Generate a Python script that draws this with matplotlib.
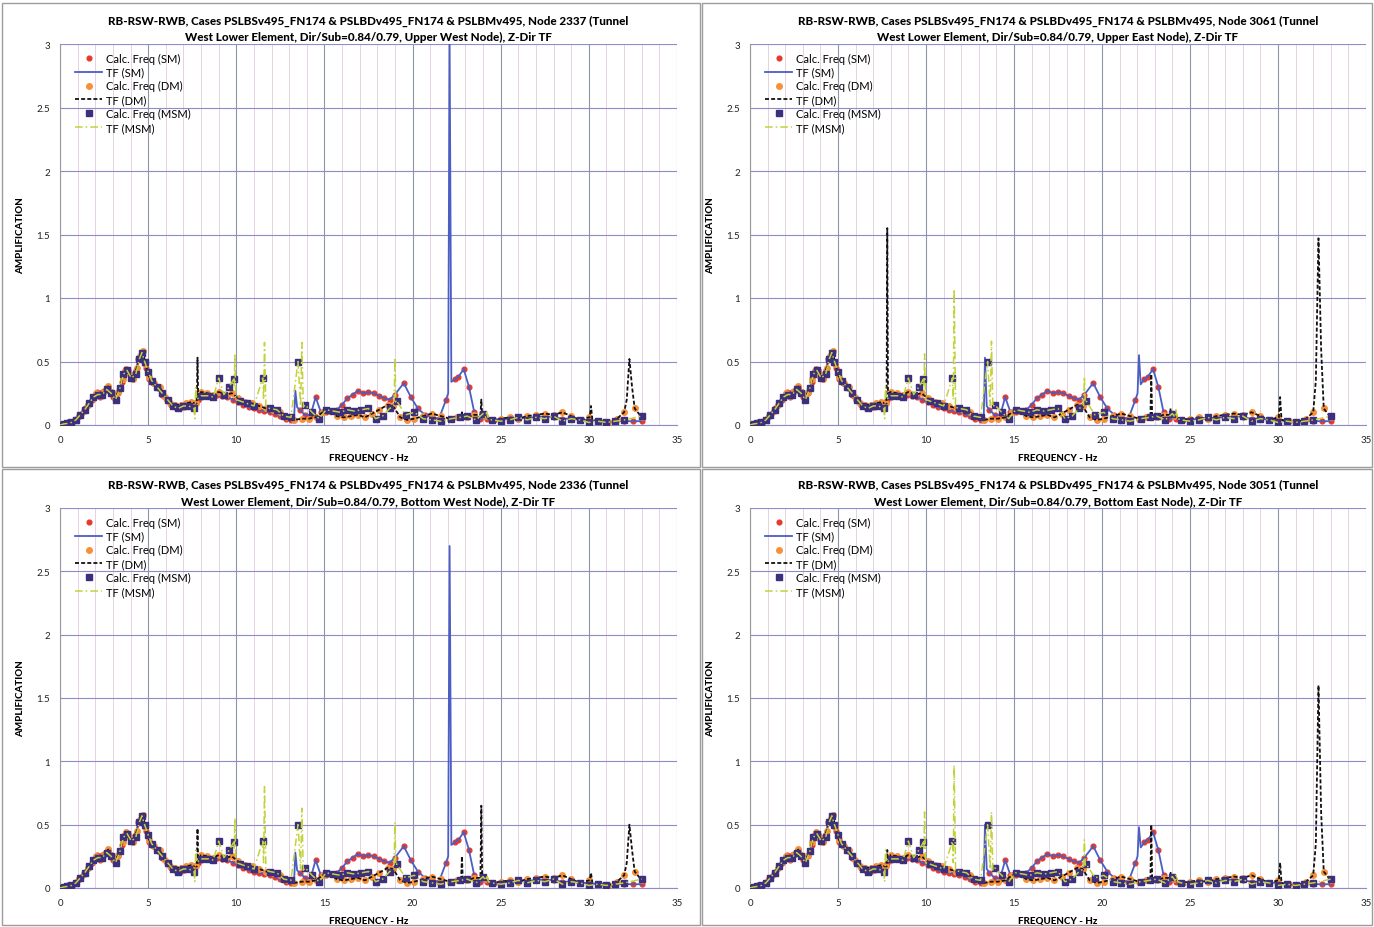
import numpy as np
import matplotlib
matplotlib.use("Agg")
import matplotlib.pyplot as plt
from matplotlib.patches import Rectangle
from matplotlib.ticker import MultipleLocator

FONT = ["Lato", "DejaVu Sans"]
plt.rcParams["font.family"] = FONT

# ── Panel definitions ─────────────────────────────────────────────────────────

NODES = ["2337", "3061", "2336", "3051"]
NODE_POS = ["Upper West Node", "Upper East Node", "Bottom West Node", "Bottom East Node"]

# ── SM case: calculated frequencies (Hz) and amplification ───────────────────

SM_FREQ = [0.0, 0.15, 0.3, 0.45, 0.6, 0.8, 1.0, 1.2, 1.4, 1.6,
           1.8, 2.0, 2.1, 2.25, 2.4, 2.55, 2.7, 2.85, 3.0, 3.15,
           3.3, 3.5, 3.7, 3.85, 4.0, 4.15, 4.3, 4.45, 4.6, 4.75,
           4.9, 5.05, 5.3, 5.55, 5.8, 6.05, 6.3, 6.55, 6.8, 7.05,
           7.3, 7.55, 7.8, 8.0, 8.3, 8.6, 8.9, 9.2, 9.5, 9.8,
           10.1, 10.4, 10.7, 11.0, 11.3, 11.6, 11.9, 12.2, 12.5, 12.8,
           13.1, 13.6, 13.9, 14.2, 14.5, 14.8, 15.1, 15.4, 15.7, 16.0,
           16.3, 16.6, 16.9, 17.2, 17.5, 17.8, 18.1, 18.4, 18.7, 19.0,
           19.5, 19.9, 20.3, 20.7, 21.1, 21.5, 21.9, 22.4, 22.6, 22.9,
           23.2, 23.5, 23.8, 24.2, 24.6, 25.0, 25.5, 26.0, 26.5, 27.0,
           27.5, 28.0, 28.5, 29.0, 29.5, 30.0, 30.5, 31.0, 31.5, 32.0,
           32.5, 33.0]
SM_AMP = [0.005, 0.01, 0.012, 0.02, 0.025, 0.035, 0.06, 0.09, 0.13, 0.16,
          0.2, 0.24, 0.26, 0.22, 0.26, 0.27, 0.3, 0.27, 0.22, 0.21,
          0.25, 0.34, 0.43, 0.43, 0.38, 0.36, 0.43, 0.52, 0.55, 0.5,
          0.45, 0.36, 0.33, 0.29, 0.24, 0.2, 0.16, 0.14, 0.13, 0.14,
          0.16, 0.17, 0.2, 0.22, 0.23, 0.23, 0.235, 0.23, 0.22, 0.2,
          0.18, 0.16, 0.14, 0.13, 0.12, 0.11, 0.1, 0.09, 0.07, 0.05,
          0.04, 0.12, 0.08, 0.07, 0.22, 0.1, 0.1, 0.11, 0.12, 0.16,
          0.21, 0.24, 0.27, 0.25, 0.26, 0.25, 0.23, 0.21, 0.2, 0.24,
          0.33, 0.22, 0.13, 0.08, 0.06, 0.05, 0.2, 0.36, 0.38, 0.44,
          0.3, 0.1, 0.05, 0.05, 0.04, 0.04, 0.05, 0.05, 0.06, 0.06,
          0.07, 0.06, 0.05, 0.05, 0.04, 0.04, 0.03, 0.02, 0.03, 0.03,
          0.03, 0.03]

# narrow resonances in the SM transfer function, one row per node
SM_PEAK_FREQ = [13.28, 13.35, 13.45, 22.02, 22.1, 22.2]
SM_PEAK_AMP = [
    [0.05, 0.27, 0.14, 0.25, 3.05, 0.34],
    [0.05, 0.53, 0.15, 0.25, 0.55, 0.32],
    [0.05, 0.28, 0.14, 0.25, 2.70, 0.34],
    [0.05, 0.50, 0.15, 0.25, 0.48, 0.32],
]

# ── DM case ──────────────────────────────────────────────────────────────────

DM_FREQ = [0.0, 0.2, 0.4, 0.6, 0.85, 1.1, 1.35, 1.6, 1.85, 2.05,
           2.3, 2.5, 2.7, 2.9, 3.1, 3.3, 3.55, 3.75, 3.95, 4.15,
           4.35, 4.55, 4.7, 4.85, 5.05, 5.35, 5.65, 5.95, 6.25, 6.55,
           6.85, 7.15, 7.45, 7.7, 8.0, 8.35, 8.7, 9.0, 9.4, 9.75,
           10.1, 10.5, 10.9, 11.3, 11.7, 12.1, 12.5, 12.9, 13.3, 13.7,
           14.1, 14.5, 14.9, 15.3, 15.7, 16.1, 16.5, 16.9, 17.3, 17.7,
           18.1, 18.6, 18.9, 19.3, 19.7, 20.1, 20.6, 21.1, 21.6, 22.1,
           22.5, 23.1, 23.5, 24.1, 24.5, 25.0, 25.5, 26.0, 26.5, 27.0,
           27.5, 28.0, 28.5, 29.0, 29.5, 30.0, 30.6, 31.1, 31.6, 32.0,
           32.6, 33.0]
DM_AMP = [0.005, 0.01, 0.015, 0.025, 0.04, 0.07, 0.11, 0.16, 0.21, 0.25,
          0.23, 0.27, 0.31, 0.26, 0.21, 0.26, 0.36, 0.44, 0.4, 0.36,
          0.45, 0.54, 0.58, 0.48, 0.38, 0.33, 0.3, 0.22, 0.17, 0.16,
          0.16, 0.17, 0.18, 0.17, 0.26, 0.25, 0.24, 0.26, 0.24, 0.25,
          0.21, 0.18, 0.17, 0.15, 0.13, 0.12, 0.1, 0.06, 0.04, 0.05,
          0.05, 0.06, 0.1, 0.11, 0.07, 0.06, 0.07, 0.08, 0.06, 0.09,
          0.12, 0.16, 0.15, 0.06, 0.04, 0.05, 0.07, 0.09, 0.07, 0.05,
          0.06, 0.06, 0.08, 0.07, 0.04, 0.05, 0.06, 0.05, 0.07, 0.08,
          0.09, 0.08, 0.1, 0.07, 0.04, 0.06, 0.03, 0.02, 0.05, 0.1,
          0.13, 0.06]

DM_PEAK_FREQ = [7.76, 7.8, 7.84, 22.75, 22.8, 22.85, 23.85, 23.9, 23.95,
                30.05, 30.12, 30.2, 32.15, 32.3, 32.45]
DM_PEAK_AMP = [
    [0.17, 0.53, 0.20, 0.06, 0.10, 0.06, 0.08, 0.20, 0.07, 0.06, 0.15, 0.04, 0.20, 0.52, 0.30],
    [0.17, 1.55, 0.25, 0.06, 0.40, 0.07, 0.08, 0.13, 0.07, 0.06, 0.22, 0.04, 0.35, 1.47, 0.60],
    [0.17, 0.47, 0.20, 0.06, 0.25, 0.06, 0.08, 0.65, 0.07, 0.06, 0.12, 0.04, 0.20, 0.50, 0.30],
    [0.17, 0.30, 0.20, 0.06, 0.50, 0.07, 0.08, 0.12, 0.07, 0.06, 0.20, 0.04, 0.35, 1.60, 0.60],
]

# ── MSM case ─────────────────────────────────────────────────────────────────

MSM_FREQ = [0.0, 0.2, 0.4, 0.65, 0.9, 1.15, 1.4, 1.65, 1.9, 2.15,
            2.4, 2.65, 2.9, 3.15, 3.4, 3.6, 3.8, 4.05, 4.3, 4.5,
            4.65, 4.8, 5.0, 5.2, 5.5, 5.8, 6.1, 6.4, 6.7, 7.0,
            7.3, 7.6, 8.0, 8.4, 8.7, 9.0, 9.3, 9.6, 9.85, 10.2,
            10.6, 11.0, 11.5, 11.9, 12.3, 12.7, 13.1, 13.5, 13.9, 14.3,
            14.7, 15.1, 15.5, 15.9, 16.3, 16.7, 17.1, 17.5, 17.9, 18.3,
            18.7, 19.1, 19.6, 20.1, 20.6, 21.1, 21.6, 22.2, 22.7, 23.1,
            23.6, 24.0, 24.5, 25.0, 25.5, 26.0, 26.5, 27.0, 27.5, 28.0,
            28.5, 29.0, 29.5, 30.0, 30.5, 31.0, 31.5, 32.0, 33.0]
MSM_AMP = [0.0, 0.008, 0.012, 0.02, 0.04, 0.08, 0.12, 0.17, 0.22, 0.24,
           0.24, 0.28, 0.25, 0.2, 0.29, 0.4, 0.43, 0.37, 0.4, 0.52,
           0.57, 0.5, 0.42, 0.35, 0.3, 0.25, 0.2, 0.15, 0.13, 0.15,
           0.15, 0.13, 0.23, 0.23, 0.22, 0.37, 0.24, 0.3, 0.36, 0.19,
           0.17, 0.15, 0.37, 0.13, 0.12, 0.07, 0.06, 0.5, 0.16, 0.1,
           0.05, 0.12, 0.11, 0.1, 0.12, 0.11, 0.12, 0.13, 0.05, 0.07,
           0.13, 0.19, 0.08, 0.1, 0.05, 0.04, 0.03, 0.05, 0.06, 0.07,
           0.04, 0.09, 0.04, 0.03, 0.04, 0.06, 0.04, 0.06, 0.05, 0.07,
           0.03, 0.05, 0.04, 0.02, 0.03, 0.02, 0.03, 0.04, 0.07]

MSM_PEAK_FREQ = [7.65, 7.7, 7.75, 9.88, 9.92, 9.97, 11.55, 11.6, 11.68,
                 13.65, 13.72, 13.8, 18.95, 19.0, 19.05, 24.15, 24.2, 24.3]
MSM_PEAK_AMP = [
    [0.05, 0.30, 0.20, 0.30, 0.55, 0.20, 0.20, 0.65, 0.14, 0.15, 0.65, 0.14, 0.15, 0.53, 0.18, 0.06, 0.10, 0.05],
    [0.05, 0.30, 0.20, 0.30, 0.56, 0.20, 0.20, 1.07, 0.14, 0.15, 0.66, 0.14, 0.15, 0.38, 0.18, 0.06, 0.12, 0.05],
    [0.05, 0.30, 0.20, 0.30, 0.55, 0.20, 0.20, 0.80, 0.14, 0.15, 0.63, 0.14, 0.15, 0.52, 0.18, 0.06, 0.10, 0.05],
    [0.05, 0.30, 0.20, 0.30, 0.60, 0.20, 0.20, 0.97, 0.14, 0.15, 0.60, 0.14, 0.15, 0.38, 0.18, 0.06, 0.10, 0.05],
]

# ── Styling ──────────────────────────────────────────────────────────────────

RED = "#e5392c"
BLUE = "#4a5ec4"
ORANGE = "#f79038"
NAVY = "#3b2f7e"
YELLOW = "#c3d23a"


def merge(base_f, base_a, peak_f, peak_a):
    f = np.concatenate([base_f, peak_f])
    a = np.concatenate([base_a, peak_a])
    order = np.argsort(f, kind="stable")
    return f[order], a[order]


def draw_panel(ax, i):
    sm_f, sm_a = merge(SM_FREQ, SM_AMP, SM_PEAK_FREQ, SM_PEAK_AMP[i])
    dm_f, dm_a = merge(DM_FREQ, DM_AMP, DM_PEAK_FREQ, DM_PEAK_AMP[i])
    ms_f, ms_a = merge(MSM_FREQ, MSM_AMP, MSM_PEAK_FREQ, MSM_PEAK_AMP[i])

    ax.plot(SM_FREQ, SM_AMP, ls="none", marker="o", ms=3.4, color=RED,
            mec=RED, label="Calc. Freq (SM)", zorder=3)
    ax.plot(sm_f, sm_a, color=BLUE, lw=1.3, label="TF (SM)", zorder=4)
    ax.plot(DM_FREQ, DM_AMP, ls="none", marker="o", ms=4.0, color=ORANGE,
            mec=ORANGE, label="Calc. Freq (DM)", zorder=5)
    ax.plot(dm_f, dm_a, color="#111111", lw=1.3, ls=(0, (2.2, 1.2)),
            label="TF (DM)", zorder=6)
    ax.plot(MSM_FREQ, MSM_AMP, ls="none", marker="s", ms=4.2, color=NAVY,
            mec=NAVY, label="Calc. Freq (MSM)", zorder=7)
    ax.plot(ms_f, ms_a, color=YELLOW, lw=1.1, ls=(0, (5, 2, 1, 2)),
            label="TF (MSM)", zorder=8)

    ax.set_xlim(0, 35)
    ax.set_ylim(0, 3)
    ax.set_xticks(np.arange(0, 36, 5))
    ax.xaxis.set_minor_locator(MultipleLocator(1))
    ax.set_yticks([0, 0.5, 1, 1.5, 2, 2.5, 3])
    ax.set_yticklabels(["0", "0.5", "1", "1.5", "2", "2.5", "3"])
    ax.tick_params(which="both", length=0, labelsize=7, pad=7, colors="#222222")

    ax.grid(which="minor", axis="x", color="#e4d2e2", lw=0.7, zorder=0)
    ax.grid(which="major", axis="x", color="#8f94a6", lw=0.8, zorder=0)
    ax.grid(which="major", axis="y", color="#8c8cc6", lw=0.8, zorder=0)
    ax.set_axisbelow(True)
    for side in ("top", "right"):
        ax.spines[side].set_visible(False)
    ax.spines["left"].set_color("#9a9a9a")
    ax.spines["bottom"].set_color("#8c8cc6")

    ax.set_xlabel("FREQUENCY - Hz", fontsize=7, fontweight="black", labelpad=7)
    ax.set_ylabel("AMPLIFICATION", fontsize=7, fontweight="black", labelpad=8)
    ax.set_title(
        "RB-RSW-RWB, Cases PSLBSv495_FN174 & PSLBDv495_FN174 & PSLBMv495, "
        f"Node {NODES[i]} (Tunnel\nWest Lower Element, Dir/Sub=0.84/0.79, "
        f"{NODE_POS[i]}), Z-Dir TF",
        fontsize=8.4, fontweight="black", pad=3, linespacing=1.5,
    )

    leg = ax.legend(loc="upper left", bbox_to_anchor=(0.012, 0.998), frameon=False,
                    fontsize=8.0, handlelength=2.4, labelspacing=0.26,
                    borderpad=0.2, handletextpad=0.35)
    leg.set_zorder(10)


fig = plt.figure(figsize=(13.74, 9.28), dpi=100)
fig.patch.set_facecolor("white")

W, H = 1374, 928
axes_px = [(60, 45, 617, 381), (750, 45, 616, 381),
           (60, 509, 617, 380), (750, 509, 616, 380)]
frames_px = [(2, 4, 698, 464), (702, 4, 670, 464),
             (2, 470, 698, 456), (702, 470, 670, 456)]

for (fx, fy, fw, fh) in frames_px:
    fig.patches.append(Rectangle((fx / W, 1 - (fy + fh) / H), fw / W, fh / H,
                                 transform=fig.transFigure, fill=False,
                                 edgecolor="#9c9c9c", lw=1.0))

for i, (x, y, w, h) in enumerate(axes_px):
    ax = fig.add_axes([x / W, 1 - (y + h) / H, w / W, h / H])
    draw_panel(ax, i)

fig.savefig("out.png", dpi=100, facecolor="white")
